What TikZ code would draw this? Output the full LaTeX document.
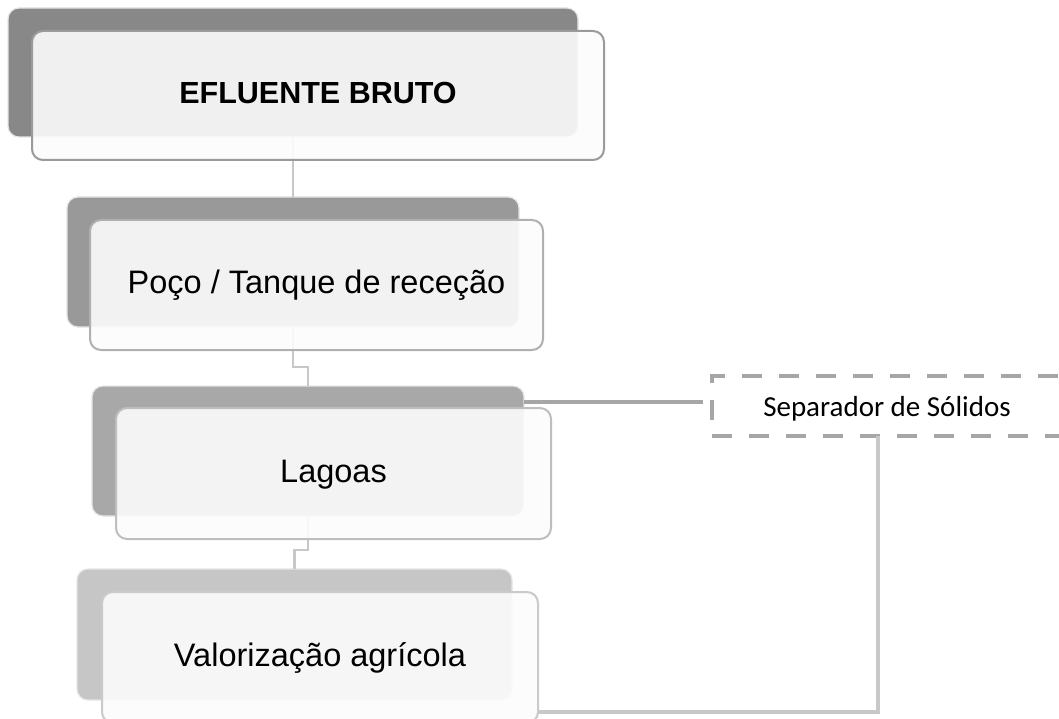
\documentclass[tikz,border=0pt]{standalone}
\usepackage{fontspec}
\setmainfont{Liberation Sans}
\newfontfamily\calibfont{Carlito}
\usetikzlibrary{calc}
\definecolor{backA}{HTML}{888888}
\definecolor{backB}{HTML}{999999}
\definecolor{backC}{HTML}{A8A8A8}
\definecolor{backD}{HTML}{C6C6C6}
\definecolor{frA}{HTML}{9A9A9A}
\definecolor{frB}{HTML}{B0B0B0}
\definecolor{frC}{HTML}{BEBEBE}
\definecolor{frD}{HTML}{CACACA}
\definecolor{linkgray}{HTML}{C8C8C8}
\definecolor{sepgray}{HTML}{A6A6A6}
\definecolor{vgray}{HTML}{C8C8C8}
\begin{document}
\begin{tikzpicture}[x=1pt,y=-1pt,
  backbox/.style={rectangle, rounded corners=11pt, inner sep=0pt, outer sep=0pt, draw=black!10, line width=1.2pt},
  frontbox/.style={rectangle, rounded corners=11pt, inner sep=0pt, outer sep=0pt,
    fill=white!99!black, fill opacity=0.9, text opacity=1, line width=2pt,
    text height=17pt, text depth=0pt, font=\fontsize{32.5}{38}\selectfont},
  link/.style={draw=linkgray, line width=2.5pt},
  sepdash/.style={draw=sepgray, line width=4pt, dash pattern=on 20pt off 17pt},
  sepline/.style={draw=sepgray, line width=4pt},
  vline/.style={draw=vgray, line width=4pt}]
\fill[white] (0,0) rectangle (1059,719);
\useasboundingbox (0,0) rectangle (1059,719);
% back boxes
\node[backbox, fill=backA, minimum width=570pt, minimum height=129pt] (b1) at (293,72.5) {};
\node[backbox, fill=backB, minimum width=452pt, minimum height=130pt] (b2) at (293,262) {};
\node[backbox, fill=backC, minimum width=432pt, minimum height=130pt] (b3) at (308,451) {};
\node[backbox, fill=backD, minimum width=435pt, minimum height=131pt] (b4) at (294.5,634.5) {};
% connectors between boxes
\draw[link] (b1.south) -- (b2.north);
\draw[link] (b2.south) -- ++(0,40) -| (b3.north);
\draw[link] (b3.south) -- ++(0,34) -| (b4.north);
% front boxes
\node[frontbox, draw=frA, minimum width=572pt, minimum height=129pt, font=\bfseries\fontsize{30.5}{36}\selectfont] (f1) at (318,95.5) {EFLUENTE BRUTO};
\node[frontbox, draw=frB, minimum width=453pt, minimum height=130pt] (f2) at (316.5,285) {Poço / Tanque de receção};
\node[frontbox, draw=frC, minimum width=435pt, minimum height=131pt] (f3) at (333.5,473.5) {Lagoas};
\node[frontbox, draw=frD, minimum width=436pt, minimum height=131pt] (f4) at (320,657.5) {Valorização agrícola};
% separator
\node[inner sep=0pt, outer sep=0pt, minimum width=350pt, minimum height=60pt,
  font=\calibfont\fontsize{29}{35}\selectfont, text height=20pt, text depth=0pt] (sep) at (887,406) {Separador de Sólidos};
\draw[sepdash, dash phase=21pt] (sep.south west) -- (sep.north west) -- (sep.north east);
\draw[sepdash] (sep.south west) -- (sep.south east);
\coordinate (lvl) at (0,402);
\draw[sepline] (b3.east |- lvl) -- ($(sep.west |- lvl)+(-9,0)$);
\coordinate (vx) at (878,712);
\draw[vline] (vx |- sep.south) -- (vx) -- (f4.east |- vx);
\end{tikzpicture}
\end{document}
